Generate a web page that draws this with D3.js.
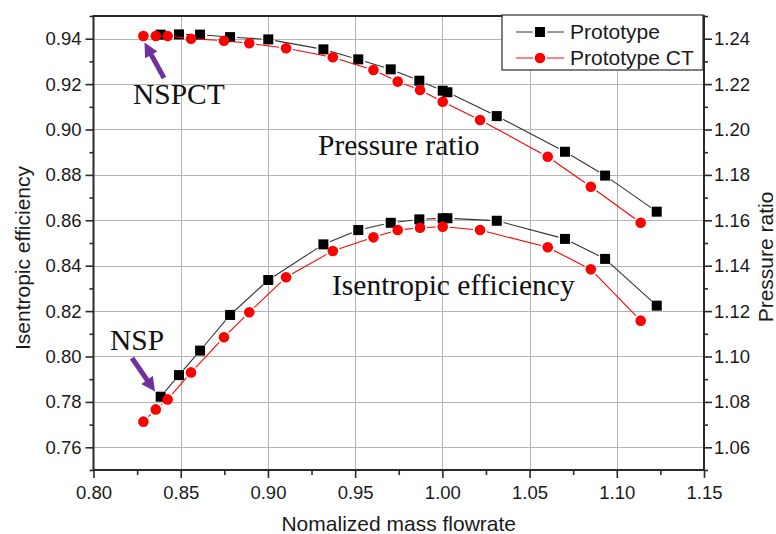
<!DOCTYPE html>
<html>
<head>
<meta charset="utf-8">
<script src="https://cdn.jsdelivr.net/npm/d3@7"></script>
<style>
  body { margin: 0; background: #fff; }
  svg { display: block; }
</style>
</head>
<body>
<svg id="chart" width="776" height="534"></svg>
<script>
// Normalized mass flowrate of each operating point
const flowProto = [0.8385, 0.8490, 0.8611, 0.8783, 0.9002, 0.9318, 0.9518, 0.9704, 0.9868, 1.0002, 1.0029, 1.0312, 1.0703, 1.0933, 1.1229];
const flowCT    = [0.8286, 0.8357, 0.8425, 0.8559, 0.8748, 0.8893, 0.9104, 0.9372, 0.9605, 0.9744, 0.9872, 1.0002, 1.0216, 1.0604, 1.0851, 1.1137];

// Isentropic efficiency (left axis)
const effProto = [0.7823, 0.7918, 0.8026, 0.8183, 0.8337, 0.8494, 0.8557, 0.8589, 0.8604, 0.8609, 0.8609, 0.8598, 0.8518, 0.8430, 0.8224];
const effCT    = [0.7713, 0.7767, 0.7811, 0.7930, 0.8085, 0.8195, 0.8349, 0.8465, 0.8525, 0.8557, 0.8567, 0.8572, 0.8557, 0.8481, 0.8384, 0.8158];

// Pressure ratio (right axis)
const prProto = [1.2418, 1.2419, 1.2418, 1.2407, 1.2397, 1.2353, 1.2309, 1.2265, 1.2215, 1.2171, 1.2164, 1.2059, 1.1902, 1.1797, 1.1638];
const prCT    = [1.2412, 1.2412, 1.2412, 1.2400, 1.2391, 1.2380, 1.2358, 1.2318, 1.2262, 1.2211, 1.2174, 1.2122, 1.2042, 1.1880, 1.1748, 1.1589];

// Axis ticks
const xTicks      = [0.80, 0.85, 0.90, 0.95, 1.00, 1.05, 1.10, 1.15];
const xMinorTicks = [0.825, 0.875, 0.925, 0.975, 1.025, 1.075, 1.125];
const effTicks      = [0.76, 0.78, 0.80, 0.82, 0.84, 0.86, 0.88, 0.90, 0.92, 0.94];
const effMinorTicks = [0.75, 0.77, 0.79, 0.81, 0.83, 0.85, 0.87, 0.89, 0.91, 0.93, 0.95];
const prTicks      = [1.06, 1.08, 1.10, 1.12, 1.14, 1.16, 1.18, 1.20, 1.22, 1.24];
const prMinorTicks = [1.05, 1.07, 1.09, 1.11, 1.13, 1.15, 1.17, 1.19, 1.21, 1.23, 1.25];

const seriesNames = ["Prototype", "Prototype CT"];

const SANS = "'Liberation Sans', Arial, sans-serif";
const SERIF = "'Liberation Serif', 'Times New Roman', serif";
const AXIS_COLOR = "#2a2a2a";
const GRID_COLOR = "#b4b4b4";
const PROTO_COLOR = "#000000";
const PROTO_LINE = "#333333";
const CT_COLOR = "#ff0000";
const ARROW_COLOR = "#7030a0";

const SQ = 10;      // square symbol side
const CR = 5.3;     // circle symbol radius

const L = 93.5, R = 704, T = 16, B = 470;

const svg = d3.select("#chart");

const x  = d3.scaleLinear().domain([0.80, 1.15]).range([L, R]);
const yL = d3.scaleLinear().domain([0.75, 0.95]).range([B, T]);
const yR = d3.scaleLinear().domain([1.05, 1.25]).range([B, T]);

// grid
const grid = svg.append("g").attr("stroke", GRID_COLOR).attr("stroke-width", 1);
grid.selectAll("line.vx").data(xTicks.slice(1, -1)).join("line")
  .attr("x1", d => Math.round(x(d)) + 0.5).attr("x2", d => Math.round(x(d)) + 0.5)
  .attr("y1", T).attr("y2", B);
grid.selectAll("line.hy").data(effTicks).join("line")
  .attr("x1", L).attr("x2", R)
  .attr("y1", d => Math.round(yL(d)) + 0.5).attr("y2", d => Math.round(yL(d)) + 0.5);

// axes
function styleAxis(g) {
  g.select(".domain").remove();
  g.selectAll(".tick line").attr("stroke", AXIS_COLOR).attr("stroke-width", 1.6);
  g.selectAll(".tick text").attr("fill", "#1a1a1a")
    .style("font-family", SANS).style("font-size", "18.5px");
}

svg.append("g").attr("transform", `translate(0,${B})`)
  .call(d3.axisBottom(x).tickValues(xTicks).tickFormat(d3.format(".2f")).tickSize(8).tickPadding(8))
  .call(styleAxis);
svg.append("g").attr("transform", `translate(0,${B})`)
  .call(d3.axisBottom(x).tickValues(xMinorTicks).tickFormat("").tickSize(5))
  .call(styleAxis);

svg.append("g").attr("transform", `translate(${L},0)`)
  .call(d3.axisLeft(yL).tickValues(effTicks).tickFormat(d3.format(".2f")).tickSize(8).tickPadding(4))
  .call(styleAxis);
svg.append("g").attr("transform", `translate(${L},0)`)
  .call(d3.axisLeft(yL).tickValues(effMinorTicks).tickFormat("").tickSize(4))
  .call(styleAxis);

svg.append("g").attr("transform", `translate(${R},0)`)
  .call(d3.axisRight(yR).tickValues(prTicks).tickFormat(d3.format(".2f")).tickSize(8).tickPadding(2))
  .call(styleAxis);
svg.append("g").attr("transform", `translate(${R},0)`)
  .call(d3.axisRight(yR).tickValues(prMinorTicks).tickFormat("").tickSize(4))
  .call(styleAxis);

// frame
svg.append("rect")
  .attr("x", L).attr("y", T).attr("width", R - L).attr("height", B - T)
  .attr("fill", "none").attr("stroke", AXIS_COLOR).attr("stroke-width", 2);

// connecting lines with a small gap around each symbol
function gappedLine(xs, ys, yScale, color, gap) {
  const pts = xs.map((v, i) => [x(v), yScale(ys[i])]);
  const segs = [];
  for (let i = 0; i < pts.length - 1; i++) {
    const [x0, y0] = pts[i], [x1, y1] = pts[i + 1];
    const dx = x1 - x0, dy = y1 - y0, len = Math.hypot(dx, dy);
    if (len <= 2 * gap) continue;
    const ux = dx / len, uy = dy / len;
    segs.push([x0 + ux * gap, y0 + uy * gap, x1 - ux * gap, y1 - uy * gap]);
  }
  svg.append("g").selectAll("line").data(segs).join("line")
    .attr("x1", d => d[0]).attr("y1", d => d[1])
    .attr("x2", d => d[2]).attr("y2", d => d[3])
    .attr("stroke", color).attr("stroke-width", 1.1);
}

function squares(xs, ys, yScale) {
  svg.append("g").selectAll("rect").data(xs).join("rect")
    .attr("x", d => x(d) - SQ / 2).attr("y", (d, i) => yScale(ys[i]) - SQ / 2)
    .attr("width", SQ).attr("height", SQ).attr("fill", PROTO_COLOR);
}

function circles(xs, ys, yScale) {
  svg.append("g").selectAll("circle").data(xs).join("circle")
    .attr("cx", d => x(d)).attr("cy", (d, i) => yScale(ys[i]))
    .attr("r", CR).attr("fill", CT_COLOR);
}

// Prototype
gappedLine(flowProto, prProto, yR, PROTO_LINE, 7);
gappedLine(flowProto, effProto, yL, PROTO_LINE, 7);
squares(flowProto, prProto, yR);
squares(flowProto, effProto, yL);

// Prototype CT
gappedLine(flowCT, prCT, yR, CT_COLOR, 7);
gappedLine(flowCT, effCT, yL, CT_COLOR, 7);
circles(flowCT, prCT, yR);
circles(flowCT, effCT, yL);

// legend
const legend = svg.append("g");
legend.append("rect").attr("x", 502).attr("y", 15).attr("width", 201).attr("height", 55)
  .attr("fill", "#fff").attr("stroke", AXIS_COLOR).attr("stroke-width", 1.2);
const rows = legend.selectAll("g.row").data(seriesNames).join("g")
  .attr("transform", (d, i) => `translate(0,${32 + i * 26})`);
rows.append("line").attr("x1", 516).attr("x2", 533).attr("y1", 0).attr("y2", 0)
  .attr("stroke", (d, i) => i === 0 ? PROTO_LINE : CT_COLOR);
rows.append("line").attr("x1", 547).attr("x2", 564).attr("y1", 0).attr("y2", 0)
  .attr("stroke", (d, i) => i === 0 ? PROTO_LINE : CT_COLOR);
rows.each(function (d, i) {
  const g = d3.select(this);
  if (i === 0) g.append("rect").attr("x", 540 - SQ / 2).attr("y", -SQ / 2).attr("width", SQ).attr("height", SQ).attr("fill", PROTO_COLOR);
  else g.append("circle").attr("cx", 540).attr("cy", 0).attr("r", CR).attr("fill", CT_COLOR);
});
rows.append("text").attr("x", 570).attr("y", 7).text(d => d)
  .style("font-family", SANS).style("font-size", "21px").attr("fill", "#1a1a1a");

// axis titles
svg.append("text").attr("x", (L + R) / 2).attr("y", 531).attr("text-anchor", "middle")
  .style("font-family", SANS).style("font-size", "21px").attr("fill", "#1a1a1a")
  .text("Nomalized mass flowrate");
svg.append("text").attr("transform", "translate(30,258) rotate(-90)").attr("text-anchor", "middle")
  .style("font-family", SANS).style("font-size", "21px").attr("fill", "#1a1a1a")
  .text("Isentropic efficiency");
svg.append("text").attr("transform", "translate(773,257) rotate(-90)").attr("text-anchor", "middle")
  .style("font-family", SANS).style("font-size", "21px").attr("fill", "#1a1a1a")
  .text("Pressure ratio");

// curve labels
function serifLabel(tx, ty, s) {
  svg.append("text").attr("x", tx).attr("y", ty)
    .style("font-family", SERIF).style("font-size", "29.5px").attr("fill", "#111")
    .text(s);
}
serifLabel(318, 155, "Pressure ratio");
serifLabel(332, 295, "Isentropic efficiency");
serifLabel(133, 104, "NSPCT");
serifLabel(110, 350, "NSP");

// arrows pointing at the surge points
function arrow(x0, y0, x1, y1) {
  const dx = x1 - x0, dy = y1 - y0, len = Math.hypot(dx, dy);
  const ux = dx / len, uy = dy / len, px = -uy, py = ux;
  const head = 14, half = 7;
  const bx = x1 - ux * head, by = y1 - uy * head;
  svg.append("line").attr("x1", x0).attr("y1", y0).attr("x2", bx + ux).attr("y2", by + uy)
    .attr("stroke", ARROW_COLOR).attr("stroke-width", 5);
  svg.append("path")
    .attr("d", `M${x1},${y1}L${bx + px * half},${by + py * half}L${bx - px * half},${by - py * half}Z`)
    .attr("fill", ARROW_COLOR);
}
arrow(164, 78, 144.5, 42.5);
arrow(132, 358, 155, 391.5);
</script>
</body>
</html>
